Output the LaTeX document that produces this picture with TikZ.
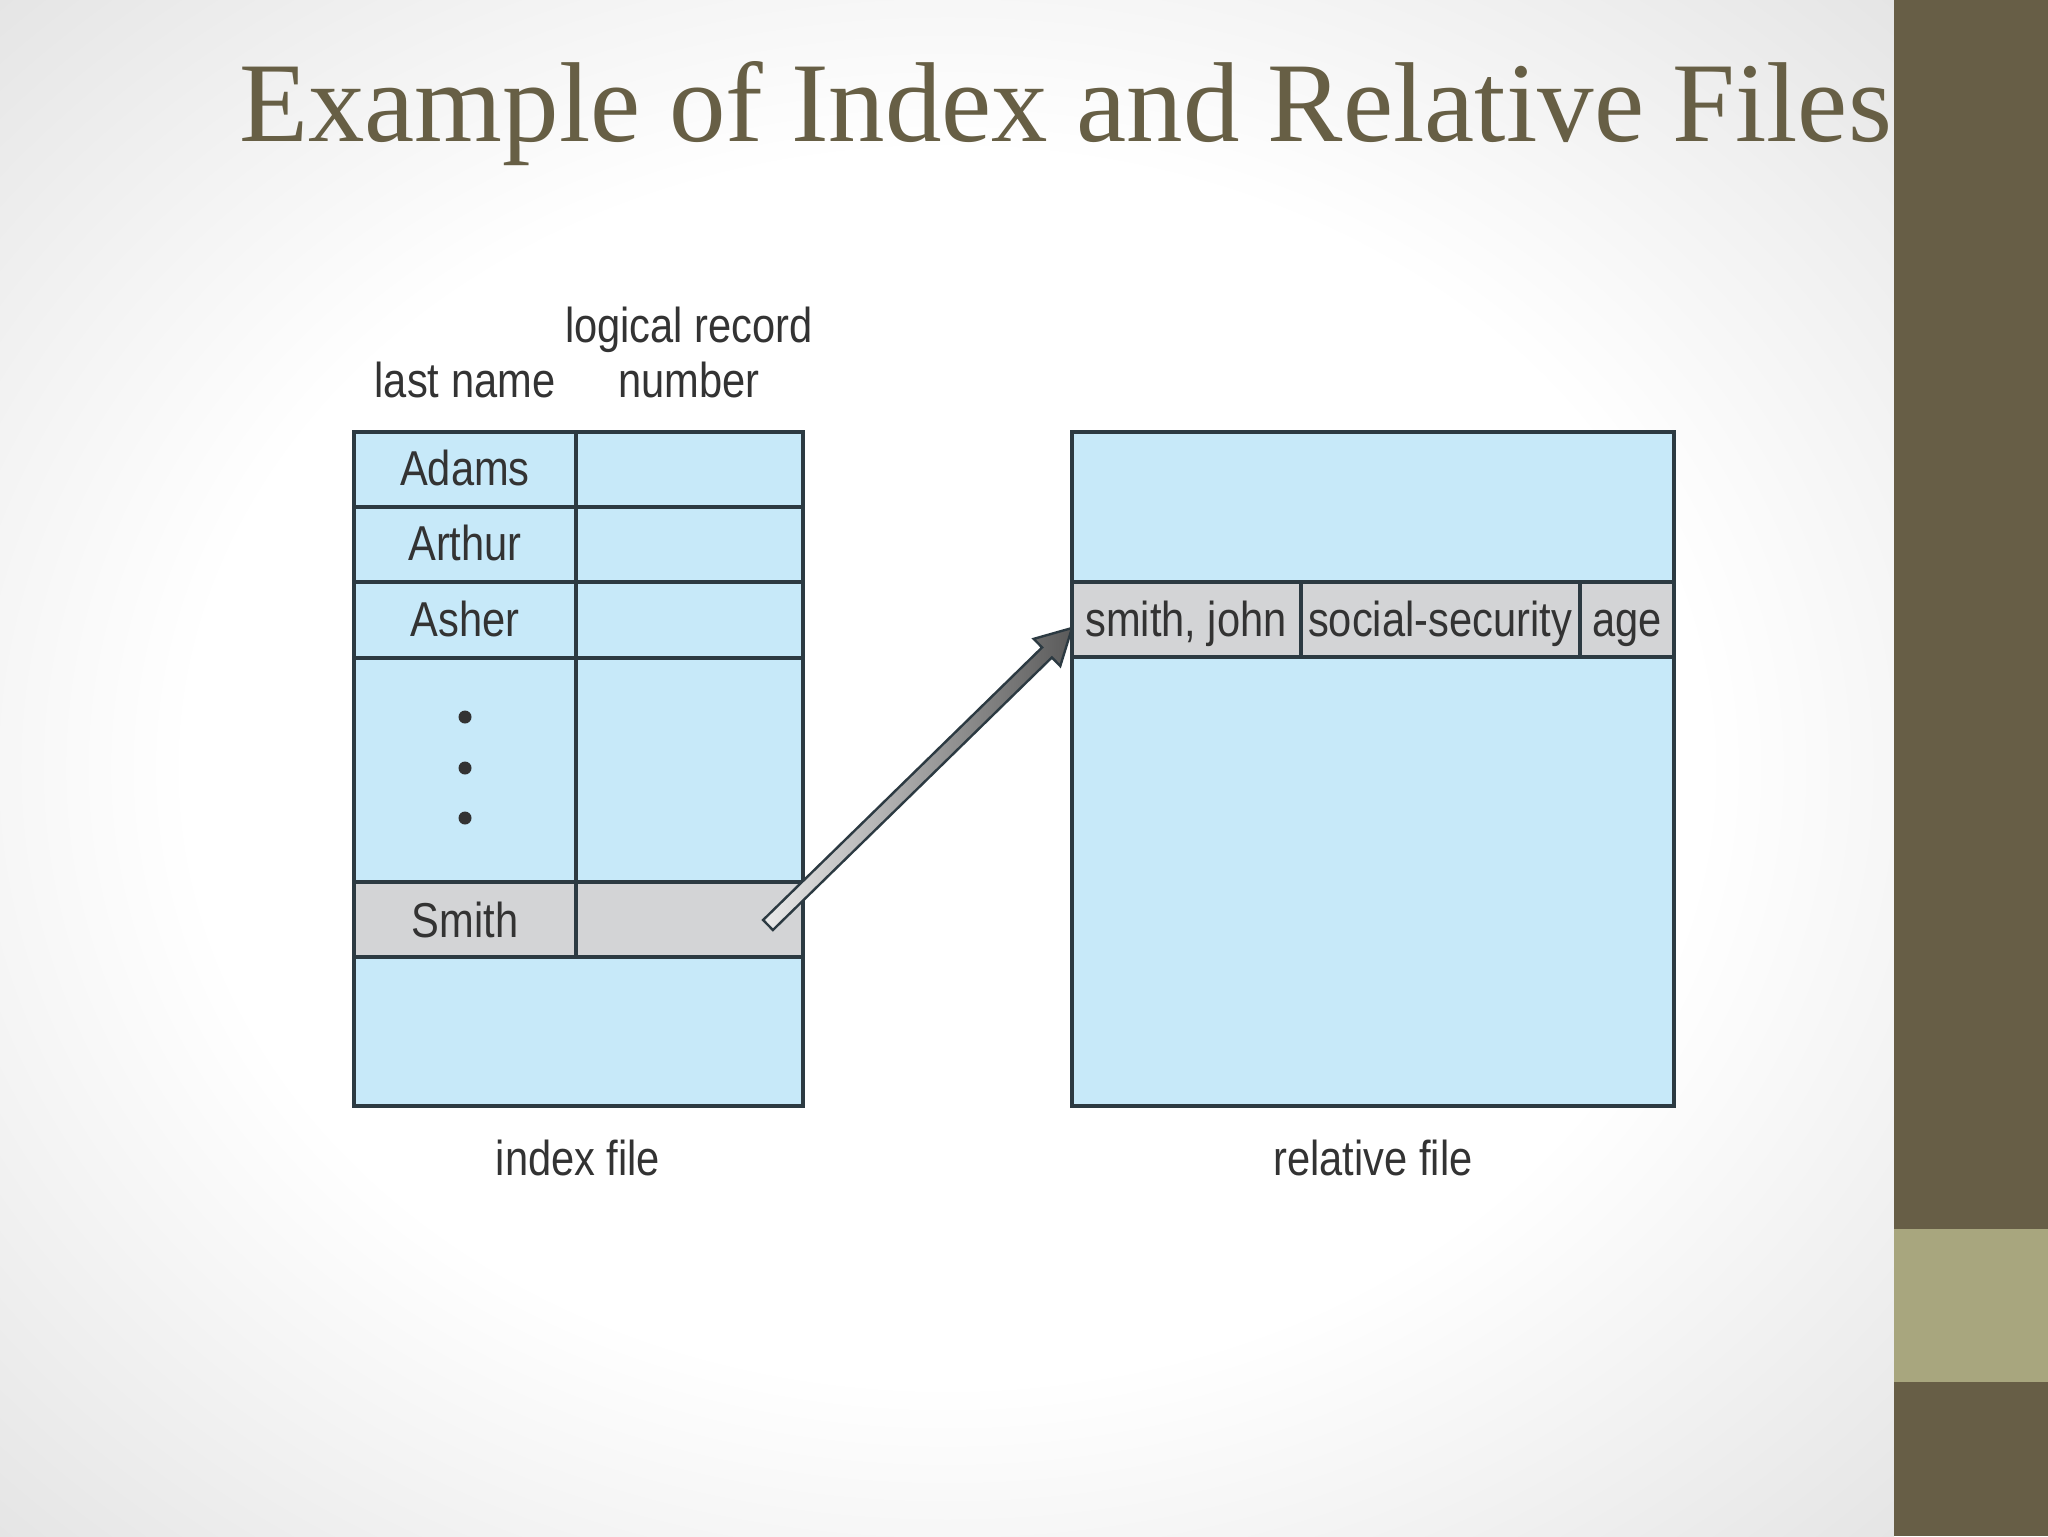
\documentclass[tikz,border=0pt]{standalone}
\usepackage{fontspec}
\setmainfont{Liberation Serif}
\setsansfont{Liberation Sans}
\usepackage{graphicx}
\usetikzlibrary{calc}
\definecolor{barc}{HTML}{675E46}
\definecolor{bandc}{HTML}{A8A67E}
\definecolor{titlec}{HTML}{675F45}
\definecolor{cellblue}{HTML}{C7E9F9}
\definecolor{cellgray}{HTML}{D3D4D6}
\definecolor{edgec}{HTML}{2C3A42}
\definecolor{txtc}{HTML}{333333}
\definecolor{bgg}{HTML}{E4E4E4}
\definecolor{arrlight}{HTML}{EAEAEA}
\definecolor{arrdark}{HTML}{5A5A5A}
\pgfdeclareradialshading{bgshade}{\pgfpoint{0bp}{0bp}}{color(0bp)=(white); color(20bp)=(white); color(36bp)=(bgg); color(50bp)=(bgg)}
\newcommand{\cz}[1]{\scalebox{0.85}[1]{#1}}
\begin{document}
\begin{tikzpicture}[x=0.5pt,y=-0.5pt,
  cell/.style={draw=edgec, line width=1.8pt, fill=cellblue},
  graycell/.style={draw=edgec, line width=1.8pt, fill=cellgray},
  lbl/.style={font=\fontsize{24.5pt}{28pt}\sffamily, text=txtc, anchor=base, inner sep=0pt},
  dotc/.style={circle, fill=txtc, inner sep=0pt, minimum size=6.5pt}
]
\useasboundingbox (0,0) rectangle (2048,1536);
% background
\fill[white] (0,0) rectangle (1894,1536);
\shade[shading=bgshade] (0,0) rectangle (1894,1536);
\fill[barc] (1894,0) rectangle (2048,1536);
\fill[bandc] (1894,1229) rectangle (2048,1382);
% title
\node[anchor=base west, inner sep=0pt, text=titlec] (title) at (239,141)
  {\resizebox{826pt}{40pt}{Example of Index and Relative Files}};
% index file
\draw[cell] (354,432) rectangle (576,507);
\draw[cell] (576,432) rectangle (803,507);
\draw[cell] (354,507) rectangle (576,582);
\draw[cell] (576,507) rectangle (803,582);
\draw[cell] (354,582) rectangle (576,658);
\draw[cell] (576,582) rectangle (803,658);
\draw[cell] (354,658) rectangle (576,882);
\draw[cell] (576,658) rectangle (803,882);
\draw[graycell] (354,882) rectangle (576,957);
\draw[graycell] (576,882) rectangle (803,957);
\draw[cell] (354,957) rectangle (803,1106);
\node[lbl] (adams) at (465,485) {\cz{Adams}};
\node[lbl] (arthur) at (465,560) {\cz{Arthur}};
\node[lbl] (asher) at (465,636) {\cz{Asher}};
\node[dotc] (d1) at (465,717) {};
\node[dotc] (d2) at (465,768) {};
\node[dotc] (d3) at (465,818) {};
\node[lbl] (smith) at (465,937) {\cz{Smith}};
\node[lbl] (lastname) at (465,397) {\cz{last name}};
\node[lbl] (logrec) at (689,342) {\cz{logical record}};
\node[lbl] (number) at (689,397) {\cz{number}};
\node[lbl] (indexfile) at (578,1175) {\cz{index file}};
% relative file
\draw[cell] (1072,432) rectangle (1674,1106);
\draw[graycell] (1072,582) rectangle (1301,657);
\draw[graycell] (1301,582) rectangle (1580,657);
\draw[graycell] (1580,582) rectangle (1674,657);
\node[lbl] (sjohn) at (1186,636) {\cz{smith, john}};
\node[lbl] (ssec) at (1440,636) {\cz{social-security}};
\node[lbl] (age) at (1627,636) {\cz{age}};
\node[lbl] (relfile) at (1373,1175) {\cz{relative file}};
% arrow
\coordinate (tail) at (768,925);
\coordinate (tip) at (1072,628);
\coordinate (base) at ($(tip)!17.5pt!(tail)$);
\shade[left color=arrlight, right color=arrdark, draw=edgec, line width=1.2pt, line join=miter]
  ($(tail)!3.5pt!90:(tip)$) -- ($(base)!3.5pt!-90:(tail)$) -- ($(base)!9.5pt!-90:(tail)$)
  -- (tip) -- ($(base)!9.5pt!90:(tail)$) -- ($(base)!3.5pt!90:(tail)$)
  -- ($(tail)!3.5pt!-90:(tip)$) -- cycle;
\end{tikzpicture}
\end{document}
